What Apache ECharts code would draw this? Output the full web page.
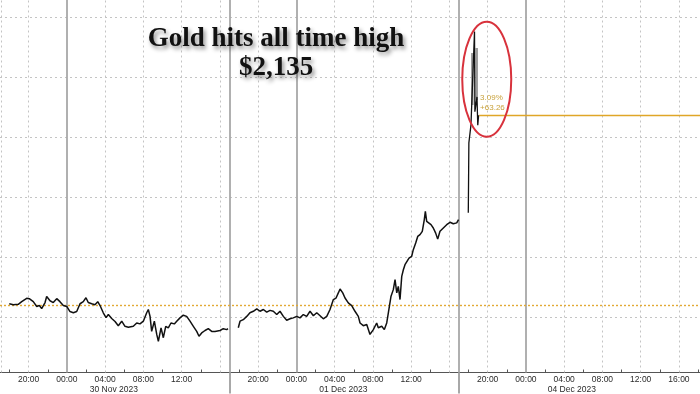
<!DOCTYPE html>
<html>
<head>
<meta charset="utf-8">
<script src="https://cdn.jsdelivr.net/npm/echarts@6/dist/echarts.min.js"></script>
<style>html,body{margin:0;padding:0;background:#fff}#c{width:700px;height:394px}</style>
</head>
<body>
<div id="c"></div>
<script>
// x = trading hours since Wed 29 Nov 2023 17:00 (weekend removed), y = gold price (USD/oz)
const sessionNov30 = [[0.97,2044.6],[1.39,2044.3],[1.91,2044.4],[2.27,2045.3],[2.79,2046.4],[3.06,2046.3],[3.48,2045.3],[3.84,2043.7],[4.11,2044.0],[4.36,2043.0],[4.71,2045.0],[4.88,2047.0],[5.23,2045.6],[5.57,2045.0],[5.93,2046.3],[6.27,2045.3],[6.62,2044.0],[6.98,2043.7],[7.32,2042.0],[7.67,2041.6],[8.02,2042.0],[8.37,2044.6],[8.71,2045.3],[8.99,2046.6],[9.23,2045.0],[9.59,2044.6],[9.93,2044.3],[10.22,2045.3],[10.46,2044.0],[10.80,2041.6],[11.09,2040.0],[11.33,2041.0],[11.68,2039.7],[12.03,2038.7],[12.37,2037.3],[12.73,2038.8],[13.07,2037.1],[13.42,2036.8],[13.94,2037.1],[14.30,2038.2],[14.64,2037.9],[14.99,2038.8],[15.34,2041.6],[15.51,2042.7],[15.69,2040.4],[15.86,2035.4],[16.14,2038.8],[16.39,2034.4],[16.56,2032.1],[16.84,2036.6],[17.08,2033.3],[17.33,2037.1],[17.60,2036.6],[17.88,2038.2],[18.23,2037.9],[18.48,2038.8],[18.82,2039.9],[19.17,2040.8],[19.52,2040.4],[19.87,2038.8],[20.22,2037.1],[20.57,2035.4],[20.81,2033.8],[21.09,2034.9],[21.44,2035.7],[21.78,2036.3],[22.14,2035.4],[22.48,2035.4],[23.01,2035.7],[23.35,2036.3],[23.71,2036.0],[23.84,2036.3]];
const sessionDec01 = [[24.92,2036.6],[25.10,2038.8],[25.44,2039.3],[25.80,2040.4],[26.14,2041.6],[26.49,2042.1],[26.85,2042.9],[27.19,2042.1],[27.54,2042.7],[27.89,2041.8],[28.24,2042.4],[28.58,2042.1],[28.94,2041.0],[29.28,2042.1],[29.63,2040.4],[29.98,2039.1],[30.33,2039.6],[30.67,2039.9],[31.03,2040.4],[31.37,2039.9],[31.72,2041.0],[32.07,2040.4],[32.42,2042.1],[32.77,2040.6],[33.12,2041.6],[33.47,2040.6],[33.81,2039.6],[34.17,2040.4],[34.51,2042.7],[34.86,2046.0],[35.14,2046.5],[35.38,2048.2],[35.56,2049.5],[35.84,2048.2],[36.08,2046.5],[36.42,2044.9],[36.78,2044.0],[37.12,2042.1],[37.47,2040.4],[37.65,2038.2],[37.99,2037.3],[38.35,2037.7],[38.69,2034.4],[39.04,2036.0],[39.39,2038.2],[39.56,2036.6],[39.92,2037.1],[40.19,2036.0],[40.44,2038.2],[40.61,2041.6],[40.89,2047.1],[41.13,2049.3],[41.31,2052.6],[41.49,2048.2],[41.65,2050.4],[41.83,2046.0],[42.01,2053.7],[42.18,2055.9],[42.35,2057.6],[42.53,2057.0],[42.77,2059.8],[43.05,2060.4],[43.22,2062.6],[43.47,2064.8],[43.68,2067.0],[43.92,2067.6],[44.16,2068.7],[44.37,2072.6],[44.48,2075.3],[44.62,2072.0],[44.79,2071.5],[45.07,2070.9],[45.31,2069.8],[45.56,2068.1],[45.77,2066.1],[46.01,2068.7],[46.36,2069.8],[46.71,2070.9],[47.06,2071.7],[47.40,2071.2],[47.76,2071.5],[47.95,2072.6]];
const sessionDec04 = [[48.97,2074.9],[49.00,2086.0],[49.03,2098.1],[49.25,2104.1],[49.62,2135.2],[49.66,2108.5],[49.88,2113.4],[49.96,2104.0],[50.05,2107.3]];
const spikeRangeA = [[49.39,2128.0],[49.39,2110.7]];
const spikeRangeB = [[49.85,2129.7],[49.85,2112.4]];

const refPrice = 2044.1;
const lastPrice = 2107.3;
const lastLineStartHour = 50.1;
const changeTexts = ['3.09%', '+63.26'];

const hGridPrices = [2040, 2060, 2080, 2100, 2120, 2140];
const vGridDashedHours = [3, 11, 15, 19, 23, 27, 35, 39, 43, 47, 51, 59, 63, 67, 71];
const vGridSolidHours = [7, 24, 31, 48, 55];
const sessionBreakHours = [24, 48];
const labelHours = [3, 7, 11, 15, 19, 27, 31, 35, 39, 43, 51, 55, 59, 63, 67, 71];
const labelTexts = ['20:00','00:00','04:00','08:00','12:00','20:00','00:00','04:00','08:00','12:00','20:00','00:00','04:00','08:00','12:00','16:00'];
const minorTickHours = [1, 5, 9, 13, 17, 21, 25, 29, 33, 37, 41, 45, 49, 53, 57, 61, 65, 69, 73];
const dateHours = [11.9, 35.9, 59.8];
const dateTexts = ['30 Nov 2023', '01 Dec 2023', '04 Dec 2023'];
const titleLines = ['Gold hits all time high', '$2,135'];

const X_MIN = 0, X_MAX = 73.2, Y_MIN = 2021.73, Y_MAX = 2145.65;

const chart = echarts.init(document.getElementById('c'), null, {renderer: 'canvas'});

const gridDash = {color: '#c4c4c4', type: [2, 3], width: 1};
const markLines = [];
hGridPrices.forEach(v => markLines.push({yAxis: v, lineStyle: gridDash}));
vGridDashedHours.forEach(v => markLines.push({xAxis: v, lineStyle: gridDash}));
vGridSolidHours.forEach(v => markLines.push({xAxis: v, lineStyle: {color: '#a8a8a8', type: 'solid', width: 1.8}}));
markLines.push({xAxis: 0.08, lineStyle: gridDash});
markLines.push({yAxis: refPrice, lineStyle: {color: '#e2a935', type: [2, 2], width: 1.4}});

const titleStyle = {
  fontFamily: 'Liberation Serif', fontWeight: 'bold', fontSize: 27, color: '#111',
  textShadowColor: 'rgba(0,0,0,0.45)', textShadowBlur: 4, textShadowOffsetX: 2, textShadowOffsetY: 3
};
const lastStyle = {color: '#e0a628', type: 'solid', width: 1.4, opacity: 1};

const option = {
  animation: false,
  backgroundColor: '#fff',
  title: [
    {text: titleLines[0], left: 276, top: 26, textAlign: 'center', padding: 0, textStyle: titleStyle},
    {text: titleLines[1], left: 276, top: 55, textAlign: 'center', padding: 0, textStyle: titleStyle}
  ],
  grid: {left: 0, right: 0, top: 0, bottom: 21, containLabel: false},
  xAxis: [
    {
      type: 'value', min: X_MIN, max: X_MAX, position: 'bottom',
      axisLine: {show: true, lineStyle: {color: '#555', width: 1}},
      axisTick: {show: true, inside: true, length: 3, customValues: minorTickHours, lineStyle: {color: '#555'}},
      axisLabel: {show: true, customValues: labelHours, margin: 3, fontSize: 8.5, fontFamily: 'Liberation Sans', color: '#2a2a2a',
        formatter: v => labelTexts[labelHours.indexOf(v)] || ''},
      splitLine: {show: false}
    },
    {
      type: 'value', min: X_MIN, max: X_MAX, position: 'bottom',
      axisLine: {show: false},
      axisTick: {show: true, length: 21, customValues: sessionBreakHours, lineStyle: {color: '#a8a8a8', width: 2}},
      axisLabel: {show: true, customValues: dateHours, margin: 12.5, fontSize: 8.5, fontFamily: 'Liberation Sans', color: '#2a2a2a',
        formatter: v => dateTexts[dateHours.indexOf(v)] || ''},
      splitLine: {show: false}
    }
  ],
  yAxis: {type: 'value', min: Y_MIN, max: Y_MAX, show: false, splitLine: {show: false}},
  series: [
    {
      type: 'line', data: sessionNov30, showSymbol: false, silent: true, z: 5,
      lineStyle: {color: '#111', width: 1.5},
      markLine: {silent: true, symbol: 'none', label: {show: false}, z: 1, data: markLines}
    },
    {type: 'line', data: sessionDec01, showSymbol: false, silent: true, z: 5, lineStyle: {color: '#111', width: 1.5}},
    {type: 'line', data: spikeRangeA, showSymbol: false, silent: true, z: 4, lineStyle: {color: '#9a9a9a', width: 2.5}},
    {type: 'line', data: spikeRangeB, showSymbol: false, silent: true, z: 4, lineStyle: {color: '#9a9a9a', width: 2.5}},
    {
      type: 'line', data: sessionDec04, showSymbol: false, silent: true, z: 5,
      lineStyle: {color: '#111', width: 1.3},
      markLine: {
        silent: true, symbol: 'none', z: 6,
        data: [[
          {coord: [lastLineStartHour, lastPrice], lineStyle: lastStyle},
          {coord: [X_MAX, lastPrice], lineStyle: lastStyle}
        ]],
        lineStyle: lastStyle,
        emphasis: {disabled: true},
        label: {show: true, position: 'insideStartTop', distance: [1, 2], formatter: changeTexts.join('\n'),
          color: '#c9a23c', fontSize: 8, lineHeight: 10, fontFamily: 'Liberation Sans'}
      }
    }
  ]
};
chart.setOption(option);

const c = chart.convertToPixel({gridIndex: 0}, [50.9, 2119.3]);
chart.setOption({
  graphic: [{type: 'ellipse', shape: {cx: c[0], cy: c[1], rx: 24.5, ry: 57.5}, style: {fill: 'none', stroke: '#d8323c', lineWidth: 2}, z: 100}]
});
</script>
</body>
</html>
